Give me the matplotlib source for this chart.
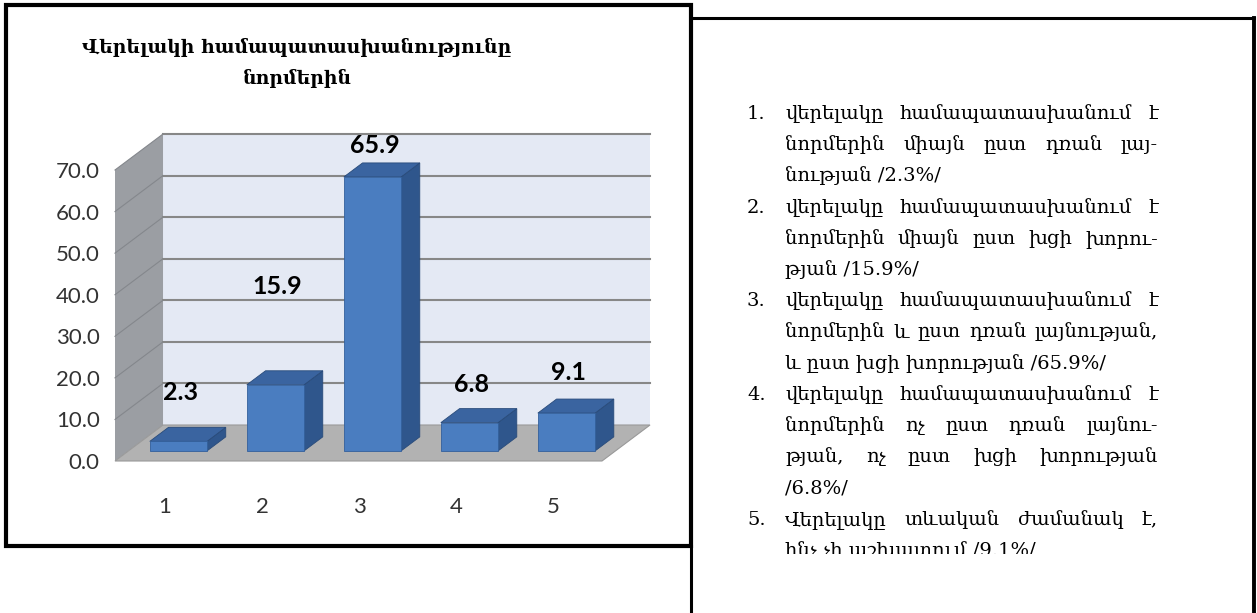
import matplotlib
matplotlib.use("Agg")
import matplotlib.pyplot as plt
from matplotlib.patches import Polygon, Rectangle
from matplotlib.lines import Line2D
from matplotlib.transforms import Bbox

# data
categories = ["1", "2", "3", "4", "5"]
values = [2.3, 15.9, 65.9, 6.8, 9.1]
y_ticks = [0, 10, 20, 30, 40, 50, 60, 70]
title = "Վերելակի համապատասխանությունը\nնորմերին"

item_numbers = ["1.", "2.", "3.", "4.", "5."]
item_lines = [
    ["վերելակը համապատասխանում է",
     "նորմերին միայն ըստ դռան լայ-",
     "նության /2.3%/"],
    ["վերելակը համապատասխանում է",
     "նորմերին միայն ըստ խցի խորու-",
     "թյան /15.9%/"],
    ["վերելակը համապատասխանում է",
     "նորմերին և ըստ դռան լայնության,",
     "և ըստ խցի խորության /65.9%/"],
    ["վերելակը համապատասխանում է",
     "նորմերին ոչ ըստ դռան լայնու-",
     "թյան, ոչ ըստ խցի խորության",
     "/6.8%/"],
    ["Վերելակը տևական ժամանակ է,",
     "ինչ չի աշխատում /9.1%/"],
]

# extra lift of the value labels above the bar tops (value units)
label_lift = [14.1, 26.0, 9.9, 11.7, 12.3]

W, H = 1257, 613
fig = plt.figure(figsize=(W / 100, H / 100), dpi=100)
fig.patch.set_facecolor("white")


def fx(px):
    return px / W


def fy(py):
    return 1 - py / H


# front plane of the 3d box
ax = fig.add_axes([fx(115), fy(461), fx(602) - fx(115), fy(170) - fy(461)])
ax.set_xlim(0.485, 5.505)
ax.set_ylim(0, 70)
ax.patch.set_visible(False)
for s in ax.spines.values():
    s.set_visible(False)

x0, x1 = ax.get_xlim()
top = 70
dx, dy = 0.495, 8.66  # depth of the box in data units

# walls and floor
ax.add_patch(Polygon([(x0 + dx, dy), (x1 + dx, dy), (x1 + dx, top + dy), (x0 + dx, top + dy)],
                     closed=True, fc="#e4e9f4", ec="none", clip_on=False, zorder=1))
ax.add_patch(Polygon([(x0, 0), (x0 + dx, dy), (x0 + dx, top + dy), (x0, top)],
                     closed=True, fc="#9b9ea3", ec="none", clip_on=False, zorder=1))
ax.add_patch(Polygon([(x0, 0), (x1, 0), (x1 + dx, dy), (x0 + dx, dy)],
                     closed=True, fc="#b2b2b2", ec="#999999", lw=0.8, clip_on=False, zorder=2))

# gridlines on back and side wall
for v in y_ticks[1:]:
    ax.plot([x0 + dx, x1 + dx], [v + dy, v + dy], color="#878787", lw=1.5, clip_on=False, zorder=1.5)
    ax.plot([x0, x0 + dx], [v, v + dy], color="#84878c", lw=0.8, clip_on=False, zorder=1.5)

# bars
w = 0.59
d0, d1 = 0.28, 0.67
bdx, bdy = (d1 - d0) * dx, (d1 - d0) * dy
for i, v in enumerate(values):
    cx = i + 1
    xl = cx - w / 2 + d0 * dx
    xr = xl + w
    yb = d0 * dy
    yt = v + d0 * dy
    ax.add_patch(Polygon([(xr, yb), (xr + bdx, yb + bdy), (xr + bdx, yt + bdy), (xr, yt)],
                         closed=True, fc="#2f568c", ec="#294b7a", lw=0.6, clip_on=False, zorder=3))
    ax.add_patch(Polygon([(xl, yt), (xr, yt), (xr + bdx, yt + bdy), (xl + bdx, yt + bdy)],
                         closed=True, fc="#3a64a0", ec="#294b7a", lw=0.6, clip_on=False, zorder=3))
    ax.add_patch(Rectangle((xl, yb), w, v, fc="#4a7dc0", ec="#33609c", lw=0.6,
                           clip_on=False, zorder=3))
    ax.text(cx + 0.16, v + label_lift[i], f"{v:.1f}", ha="center", va="center",
            fontsize=18, fontweight="bold", family="Lato", color="black", zorder=4)

ax.set_yticks(y_ticks)
ax.set_yticklabels([f"{v:.1f}" for v in y_ticks], family="Lato", fontsize=16, color="#333333")
ax.set_xticks(range(1, len(categories) + 1))
ax.set_xticklabels(categories, family="Lato", fontsize=16, color="#333333")
ax.tick_params(axis="y", length=0, pad=11)
ax.tick_params(axis="x", length=0, pad=26)

# title
fig.text(fx(297), fy(63), title, ha="center", va="center", fontsize=13.5, fontweight="bold",
         family=["DejaVu Serif", "DejaVu Sans"], linespacing=1.8)

# panel borders
fig.add_artist(Rectangle((fx(6), fy(546)), fx(691) - fx(6), fy(5) - fy(546), transform=fig.transFigure,
                         fill=False, ec="black", lw=3))
fig.add_artist(Line2D([fx(691), fx(1254)], [fy(18), fy(18)], transform=fig.transFigure, color="black", lw=2.2))
fig.add_artist(Line2D([fx(1254), fx(1254)], [fy(18), fy(613)], transform=fig.transFigure, color="black", lw=2.8))
fig.add_artist(Line2D([fx(691), fx(691)], [fy(546), fy(613)], transform=fig.transFigure, color="black", lw=2.2))

# numbered list, justified like the source document
renderer = fig.canvas.get_renderer()
list_font = dict(fontsize=14, family=["DejaVu Serif", "DejaVu Sans"], color="black")
text_left, text_right = 785, 1158
clip = Bbox([[0, H - 554], [W, H]])
row = 0
for num, lines in zip(item_numbers, item_lines):
    for j, line in enumerate(lines):
        base = fy(119 + 31.2 * row)
        if j == 0:
            fig.text(fx(747), base, num, ha="left", va="baseline", **list_font)
        words = line.split(" ")
        if j == len(lines) - 1 or len(words) == 1:
            t = fig.text(fx(text_left), base, line, ha="left", va="baseline", **list_font)
            t.set_clip_box(clip)
            t.set_clip_on(True)
        else:
            objs = [fig.text(0, base, wd, ha="left", va="baseline", **list_font) for wd in words]
            widths = [o.get_window_extent(renderer).width for o in objs]
            gap = (text_right - text_left - sum(widths)) / (len(words) - 1)
            xpos = text_left
            for o, wdt in zip(objs, widths):
                o.set_x(fx(xpos))
                xpos += wdt + gap
        row += 1

fig.savefig("out.png", dpi=100)
